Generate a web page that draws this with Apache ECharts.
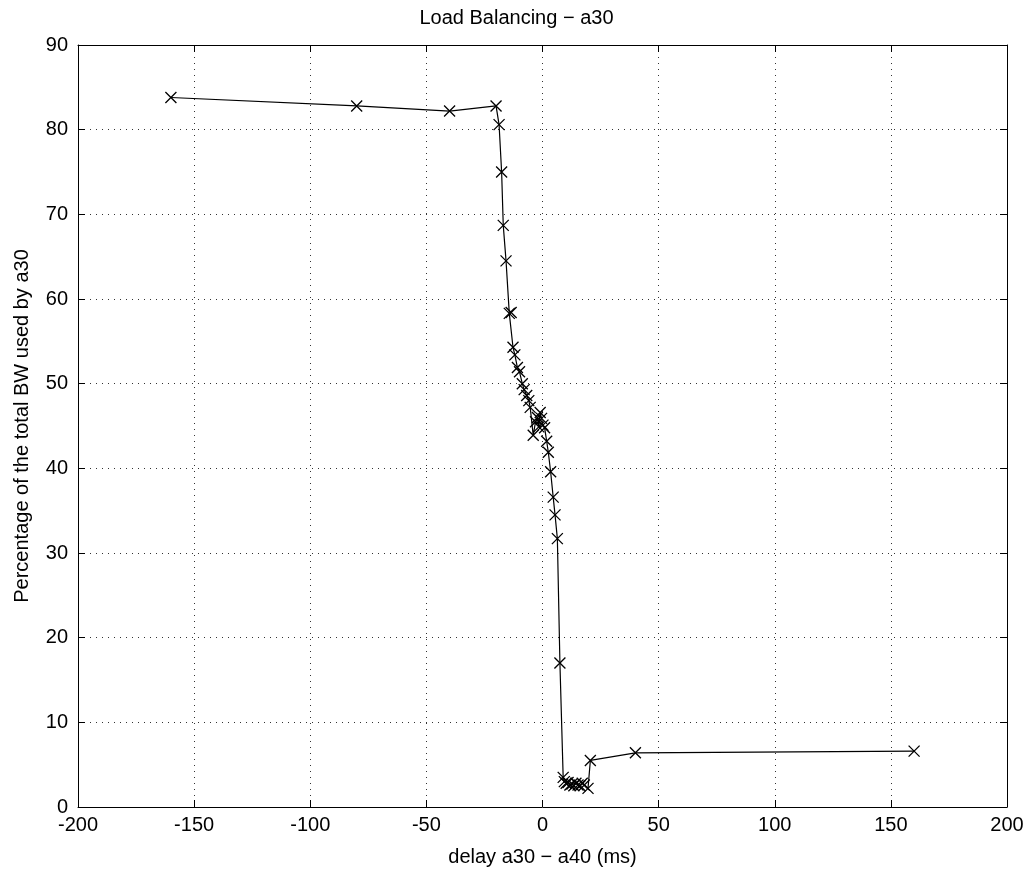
<!DOCTYPE html>
<html>
<head>
<meta charset="utf-8">
<script src="https://cdn.jsdelivr.net/npm/echarts@6/dist/echarts.min.js"></script>
<style>html,body{margin:0;padding:0;background:#fff;}#c{width:1033px;height:876px;}</style>
</head>
<body>
<div id="c"></div>
<script>
const delayMs = [-160,-80,-40,-20,-18.7,-17.6,-16.9,-15.7,-14.3,-13.5,-12.7,-11.9,-10.8,-9.9,-8.7,-7.9,-6.8,-5.9,-5.3,-4.0,-3.0,-2.2,-1.6,-1.0,-0.4,0.2,0.9,1.8,2.5,3.5,4.6,5.4,6.4,7.5,8.9,9.4,10.2,11.0,11.8,12.7,13.5,14.4,15.3,16.2,17.1,18.0,19.6,20.6,40,160];
const bwPct = [83.8,82.8,82.2,82.8,80.6,75.0,68.7,64.5,58.3,58.4,54.3,53.4,51.9,51.4,50.0,49.3,48.6,48.0,47.2,43.9,45.5,46.0,44.9,46.6,45.9,45.1,44.8,43.2,41.9,39.6,36.6,34.5,31.7,17.0,3.5,3.0,2.8,2.9,2.6,2.7,2.5,2.8,2.6,2.5,2.8,2.6,2.2,5.5,6.4,6.6];
const xTicks = [-200,-150,-100,-50,0,50,100,150,200];
const yTicks = [0,10,20,30,40,50,60,70,80,90];

const font = 'Liberation Sans, Arial, sans-serif';
const fs = 20;
const chart = echarts.init(document.getElementById('c'), null, {renderer:'canvas'});
const gridLine = {show:true, lineStyle:{color:'#000', type:[1,5], width:1, opacity:0.8}};
const axisBase = {
  axisLine:{show:true, onZero:false, lineStyle:{color:'#000', width:1}},
  axisTick:{show:true, inside:true, length:7, lineStyle:{color:'#000'}},
};
chart.setOption({
  animation:false,
  backgroundColor:'#fff',
  title:{text:'Load Balancing \u2212 a30', left:'center', top:3, textStyle:{fontFamily:font, fontSize:fs, fontWeight:'normal', color:'#000'}},
  grid:{left:78, right:26, top:45, bottom:69, containLabel:false},
  xAxis:[
    Object.assign({type:'value', min:xTicks[0], max:xTicks[xTicks.length-1], interval:50, position:'bottom',
      name:'delay a30 \u2212 a40 (ms)', nameLocation:'middle', nameGap:40,
      nameTextStyle:{fontFamily:font, fontSize:fs, color:'#000'},
      axisLabel:{fontFamily:font, fontSize:fs, color:'#000', margin:8},
      splitLine:gridLine}, axisBase),
    Object.assign({type:'value', min:xTicks[0], max:xTicks[xTicks.length-1], interval:50, position:'top',
      axisLabel:{show:false}, splitLine:{show:false}}, axisBase)
  ],
  yAxis:[
    Object.assign({type:'value', min:yTicks[0], max:yTicks[yTicks.length-1], interval:10, position:'left',
      name:'Percentage of the total BW used by a30', nameLocation:'middle', nameGap:46,
      nameTextStyle:{fontFamily:font, fontSize:fs, color:'#000'},
      axisLabel:{fontFamily:font, fontSize:fs, color:'#000', margin:10},
      splitLine:gridLine}, axisBase),
    Object.assign({type:'value', min:yTicks[0], max:yTicks[yTicks.length-1], interval:10, position:'right',
      axisLabel:{show:false}, splitLine:{show:false}}, axisBase)
  ],
  series:[{
    type:'line',
    data: delayMs.map((x,i)=>[x,bwPct[i]]),
    symbol:'path://M0,0L10,10M10,0L0,10',
    symbolSize:11,
    showAllSymbol:true,
    lineStyle:{color:'#000', width:1.2},
    itemStyle:{color:'rgba(0,0,0,0)', borderColor:'#000', borderWidth:1.3},
    emphasis:{disabled:true}
  }]
});
</script>
</body>
</html>
